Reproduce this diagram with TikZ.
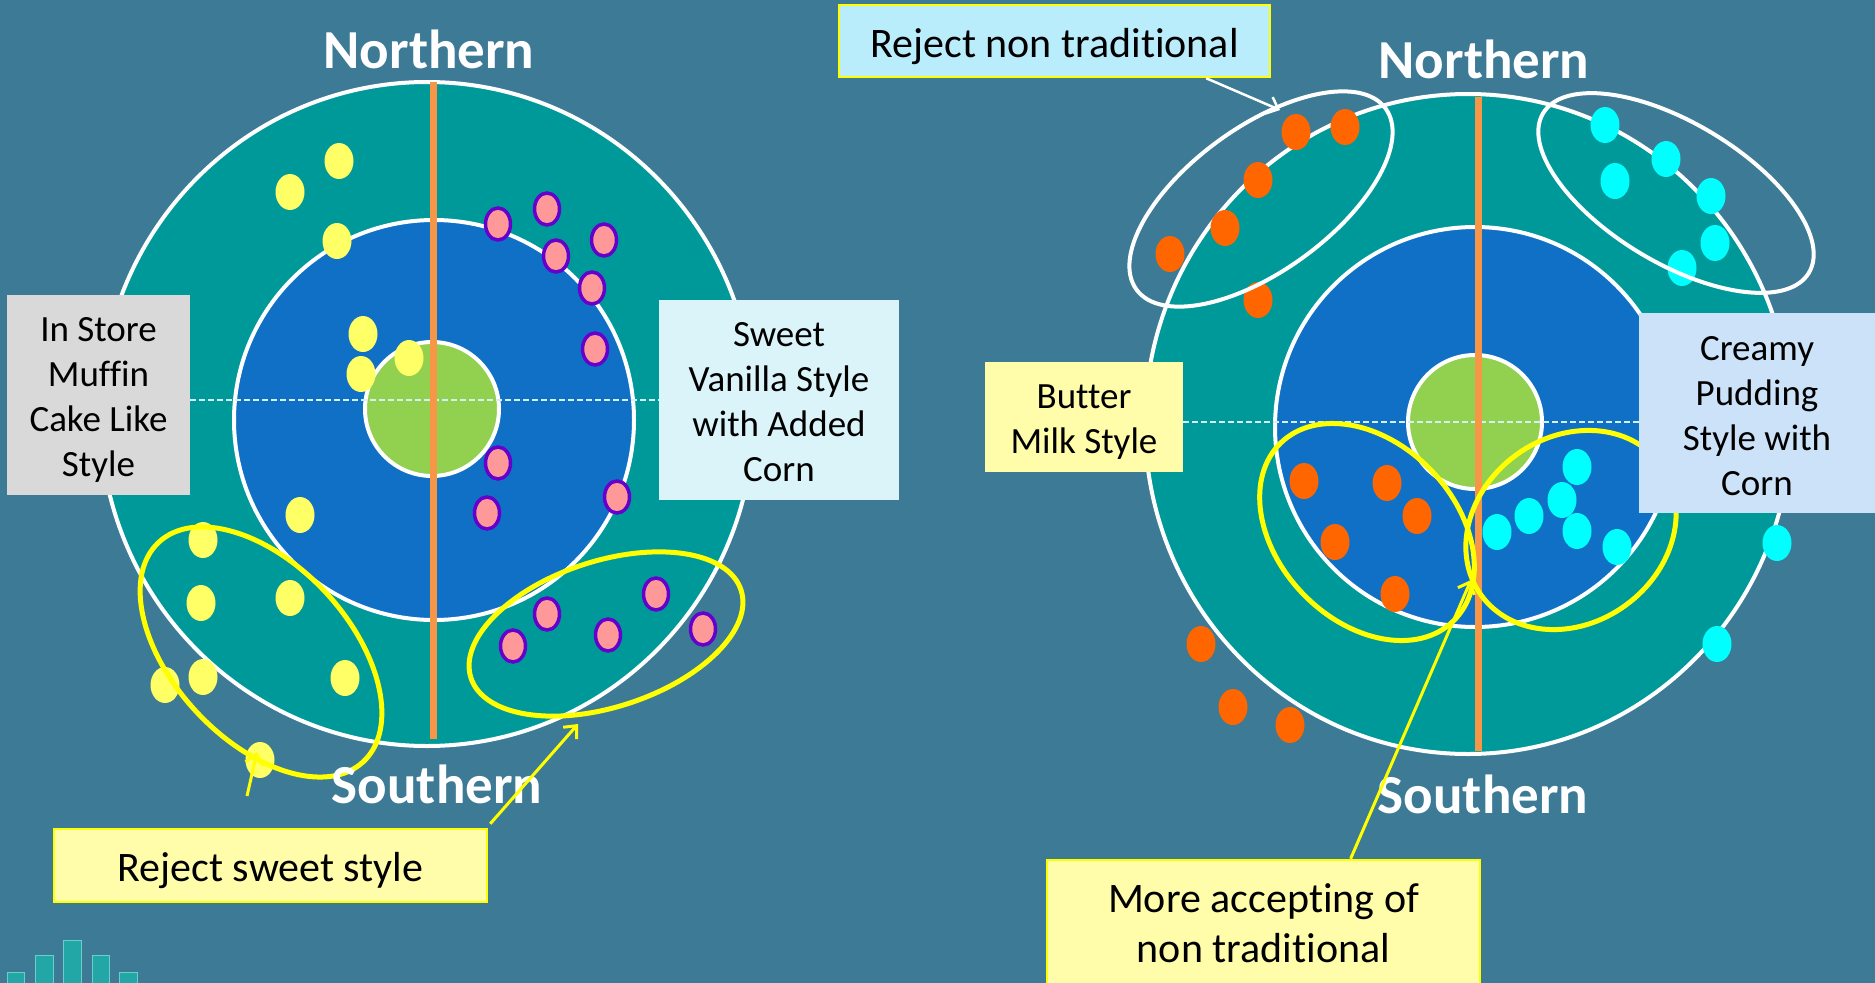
\documentclass[tikz,border=0pt]{standalone}
\usepackage{fontspec}
\setmainfont{Carlito}[Ligatures={CommonOff}]
\usetikzlibrary{arrows.meta,calc}
\definecolor{bgc}{HTML}{3C7A95}
\definecolor{tealc}{HTML}{009999}
\definecolor{bluec}{HTML}{1070C6}
\definecolor{greenc}{HTML}{92D050}
\definecolor{orangec}{HTML}{F79646}
\definecolor{dashc}{HTML}{D6F0F8}
\definecolor{ydot}{HTML}{FFFF66}
\definecolor{pinkc}{HTML}{FF9999}
\definecolor{purplec}{HTML}{6600CC}
\definecolor{odot}{HTML}{FF6600}
\definecolor{cdot}{HTML}{00FFFF}
\definecolor{yelc}{HTML}{FFFF00}
\definecolor{greyc}{HTML}{D9D9D9}
\definecolor{sweetc}{HTML}{DBF4F9}
\definecolor{rejnc}{HTML}{B9EDFB}
\definecolor{creamc}{HTML}{CBE2F8}
\definecolor{butterc}{HTML}{FFFCAA}
\definecolor{paley}{HTML}{FFFDAA}
\definecolor{barc}{HTML}{22A7A6}
\definecolor{barb}{HTML}{6ACFCB}
\tikzset{
  ring/.style={draw=white, line width=4},
  dashline/.style={draw=dashc, line width=1.3, dash pattern=on 6 off 3},
  orangeline/.style={draw=orangec, line width=7},
  region/.style={font=\fontsize{55}{60}\selectfont\bfseries, text=white, inner sep=0},
  infobox/.style={inner sep=0},
  infotext/.style={inner sep=0, align=center, text=black, font=\fontsize{37}{45}\selectfont},
  bigbox/.style={inner sep=0, draw=yelc, line width=2.5},
  bigtext/.style={inner sep=0, align=center, text=black, font=\fontsize{42}{50}\selectfont},
  yring/.style={draw=yelc, line width=5},
  wring/.style={draw=white, line width=4},
  yarrow/.style={draw=yelc, line width=3, -{Straight Barb[length=10pt,width=18pt]}},
  warrow/.style={draw=white, line width=2.5, -{Straight Barb[length=10pt,width=18pt]}},
  bar/.style={fill=barc, draw=barb, line width=1}
}
\begin{document}
\begin{tikzpicture}[x=1pt,y=-1pt]
\useasboundingbox (0,0) rectangle (1875,983);
\fill[bgc] (0,0) rectangle (1875,983);

% ===== left target =====
\filldraw[fill=tealc, ring] (427,414) ellipse [x radius=327, y radius=332];
\filldraw[fill=bluec, ring] (434,420) circle [radius=200];
\filldraw[fill=greenc, ring] (432,409) circle [radius=67];
\draw[dashline] (190,400) -- (659,400);
\draw[orangeline] (433,82) -- (433,739);

\foreach \p in {(339,161),(290,192),(337,241),(363,334),(361,374),(409,358),(300,515),
  (203,540),(201,603),(290,598),(165,685),(203,677),(345,678),(260,760)}
  \fill[ydot] \p ellipse [x radius=14.5, y radius=18];
\foreach \p in {(498,224),(547,209),(604,240),(556,256),(592,288),(595,349),(498,463),
  (487,513),(617,497),(513,646),(547,614),(608,635),(656,594),(703,629)}
  \filldraw[fill=pinkc, draw=purplec, line width=3.5] \p ellipse [x radius=12.5, y radius=16];

\draw[yring, rotate around={-47:(261,652)}] (261,652) ellipse [x radius=150, y radius=88];
\draw[yring, rotate around={18:(606,634)}] (606,634) ellipse [x radius=142, y radius=73];

% ===== right target =====
\filldraw[fill=tealc, ring] (1468,424) ellipse [x radius=323, y radius=330];
\filldraw[fill=bluec, ring] (1475,427) circle [radius=200];
\filldraw[fill=greenc, ring] (1475,422) circle [radius=67];
\draw[dashline] (1183,422) -- (1639,422);
\draw[orangeline] (1478,97) -- (1478,751);

\foreach \p in {(1296,132),(1345,127),(1258,180),(1225,228),(1170,254),(1258,300),
  (1304,481),(1387,483),(1417,516),(1335,542),(1395,594),(1201,644),(1233,707),(1290,725)}
  \fill[odot] \p ellipse [x radius=14.5, y radius=18];
\foreach \p in {(1605,125),(1666,159),(1615,181),(1711,196),(1715,243),(1682,268),
  (1577,467),(1562,500),(1529,516),(1497,532),(1577,531),(1617,547),(1777,543),(1717,644)}
  \fill[cdot] \p ellipse [x radius=14.5, y radius=18];

\draw[wring, rotate around={36:(1261,199)}] (1261,199) ellipse [x radius=154, y radius=72];
\draw[wring, rotate around={-31:(1676,193)}] (1676,193) ellipse [x radius=155, y radius=70];
\draw[yring, rotate around={-46:(1367,532)}] (1367,532) ellipse [x radius=124, y radius=89];
\draw[yring, rotate around={36:(1571,530)}] (1571,530) ellipse [x radius=111, y radius=93];

% ===== region labels =====
\node[region] (nl) at (429,49) {Northern};
\node[region] (sl) at (437,784) {Southern};
\node[region] (nr) at (1484,59) {Northern};
\node[region] (sr) at (1483,794) {Southern};

% ===== boxes =====
\node[infobox, fill=greyc, minimum width=183, minimum height=200] (muffin) at (98.5,395) {};
\node[infotext] (muffint) at ($(muffin.center)+(0,5)$) {In Store\\Muffin\\Cake Like\\Style};
\node[infobox, fill=sweetc, minimum width=240, minimum height=200] (sweet) at (779,400) {};
\node[infotext] (sweett) at ($(sweet.center)+(0,2)$) {Sweet\\Vanilla Style\\with Added\\Corn};
\node[infobox, fill=butterc, minimum width=198, minimum height=110] (butter) at (1084,417) {};
\node[infotext] (buttert) at ($(butter.center)+(0,5)$) {Butter\\Milk Style};
\node[infobox, fill=creamc, minimum width=240, minimum height=200] (creamy) at (1759,413) {};
\node[infotext] (creamyt) at ($(creamy.center)+(-2,3)$) {Creamy\\Pudding\\Style with\\Corn};

\node[bigbox, fill=paley, minimum width=433, minimum height=73] (rsweet) at (270.5,865.5) {};
\node[bigtext] (rsweett) at ($(rsweet.center)+(0,5)$) {Reject sweet style};
\node[bigbox, fill=rejnc, minimum width=431, minimum height=72] (rnon) at (1054.5,41) {};
\node[bigtext] (rnont) at ($(rnon.center)+(0,6)$) {Reject non traditional};
\node[bigbox, fill=paley, minimum width=433, minimum height=130] (more) at (1263.5,925) {};
\node[bigtext] (moret) at ($(more.center)+(0,-2)$) {More accepting of\\non traditional};

% ===== arrows =====
\coordinate (a1) at (578,724);
\coordinate (a2t) at (247,796);
\coordinate (a2) at (257,752);
\coordinate (a3) at (1280,110);
\coordinate (a4) at (1471,580);
\draw[yarrow] ($(rsweet.north east)+(2,-4)$) -- (a1);
\draw[yarrow] (a2t) -- (a2);
\draw[warrow] ($(rnon.south west)!0.85!(rnon.south east)$) -- (a3);
\draw[yarrow] ($(more.north west)!0.70!(more.north east)$) -- (a4);

% ===== chart icon =====
\filldraw[bar] (7,972) rectangle (24,990);
\filldraw[bar] (35,955) rectangle (53,990);
\filldraw[bar] (63,940) rectangle (81,990);
\filldraw[bar] (92,955) rectangle (109,990);
\filldraw[bar] (119,972) rectangle (137,990);
\end{tikzpicture}
\end{document}
